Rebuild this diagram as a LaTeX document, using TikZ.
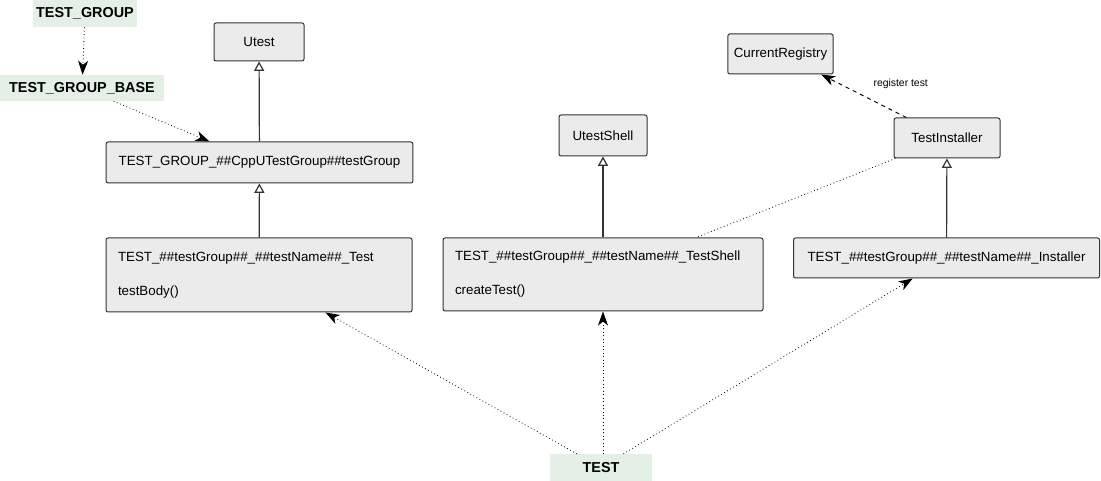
\documentclass[tikz,border=0pt]{standalone}
\usepackage{fontspec}
\setmainfont{Liberation Sans}
\usepackage{tikz}
\usetikzlibrary{arrows.meta}

\definecolor{boxfill}{HTML}{EBEBEB}
\definecolor{boxline}{HTML}{333333}
\definecolor{macrofill}{HTML}{E4EFE5}

\tikzset{
  umlclass/.style={draw=boxline, fill=boxfill, rounded corners=1.5pt, line width=0.75pt,
    font=\fontsize{10}{12}\selectfont, inner sep=0pt},
  umlbody/.style={umlclass, align=left, inner xsep=9pt},
  macrobox/.style={fill=macrofill, font=\fontsize{10.8}{13}\selectfont\bfseries, inner sep=0pt},
  inherit/.style={line width=0.9pt, draw=boxline, -{Triangle[open, length=7pt, width=7.5pt, fill=white]}},
  expands/.style={dotted, line width=0.6pt, -{Stealth[length=10.5pt, width=7.5pt, inset=3pt]}},
  registers/.style={dashed, line width=0.7pt, -{Stealth[length=10.5pt, width=7.5pt, inset=3pt]}},
  assoc/.style={dotted, line width=0.6pt}
}

\begin{document}
\begin{tikzpicture}[x=0.75pt, y=-0.75pt]
  \useasboundingbox (0,0) rectangle (1101,481);

  % macros
  \node[macrobox, minimum width=78pt, minimum height=20.25pt] (group) at (85,13.5) {TEST\_GROUP};
  \node[macrobox, minimum width=123pt, minimum height=19.5pt] (groupbase) at (82,88) {TEST\_GROUP\_BASE};
  \node[macrobox, minimum width=77pt, minimum height=20pt] (test) at (601,467.5) {TEST};

  % classes
  \node[umlclass, minimum width=67.5pt, minimum height=28.5pt] (utest) at (259,42) {Utest};
  \node[umlclass, minimum width=230pt, minimum height=30.75pt] (groupclass) at (259.5,162.5) {TEST\_GROUP\_\#\#CppUTestGroup\#\#testGroup};
  \node[umlbody, minimum width=229.5pt, minimum height=55.5pt, text width=211.5pt] (testclass) at (259,275)
    {TEST\_\#\#testGroup\#\#\_\#\#testName\#\#\_Test\\[13.5pt]testBody()};

  \node[umlclass, minimum width=66pt, minimum height=30.75pt] (utestshell) at (603,135.5) {UtestShell};
  \node[umlbody, minimum width=240pt, minimum height=54.75pt, text width=222pt] (shellclass) at (603,274.5)
    {TEST\_\#\#testGroup\#\#\_\#\#testName\#\#\_TestShell\\[13.5pt]createTest()};

  \node[umlclass, minimum width=79pt, minimum height=30pt] (registry) at (780.5,54) {CurrentRegistry};
  \node[umlclass, minimum width=79.5pt, minimum height=30pt] (installer) at (947,138) {TestInstaller};
  \node[umlclass, minimum width=229.5pt, minimum height=30pt] (installclass) at (946.5,258) {TEST\_\#\#testGroup\#\#\_\#\#testName\#\#\_Installer};

  % inheritance
  \draw[inherit] (groupclass) -- (utest);
  \draw[inherit] (testclass) -- (groupclass);
  \draw[inherit] (shellclass) -- (utestshell);
  \draw[inherit] (installclass) -- (installer);

  % macro expansion
  \draw[expands] (group) -- (groupbase);
  \draw[expands] (groupbase) -- (groupclass);
  \draw[expands] (test) -- (testclass);
  \draw[expands] (test.north -| shellclass.south) -- (shellclass.south);
  \draw[expands] (test) -- (installclass);

  % registration
  \draw[registers] (installer) -- (registry)
    node[midway, anchor=south west, xshift=6pt, yshift=4pt, inner sep=1pt, font=\fontsize{7.8}{9}\selectfont] {register test};
  \draw[assoc] (installer) -- (shellclass);
\end{tikzpicture}
\end{document}
